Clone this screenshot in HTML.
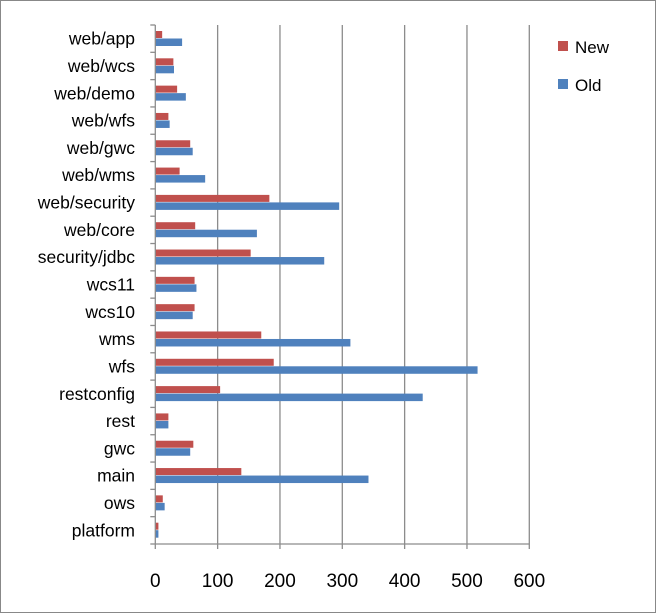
<!DOCTYPE html>
<html><head><meta charset="utf-8"><style>
html,body{margin:0;padding:0;background:#fff;}
svg{display:block;font-family:"Liberation Sans",sans-serif;}
</style></head><body>
<svg id="chart" width="657" height="614" viewBox="0 0 657 614">
<rect x="0.5" y="0.5" width="655" height="612" fill="#fff" stroke="#888"/>
<g id="grid"></g><g id="bars"></g><g id="axes"></g>
<g>
<rect x="558" y="41" width="10" height="10" fill="#c0504d"/>
<text x="575" y="53" font-size="17" fill="#000">New</text>
<rect x="558" y="79" width="10" height="10" fill="#4f81bd"/>
<text x="575" y="91" font-size="17" fill="#000">Old</text>
</g>
</svg>
<script>
const categories = ["web/app","web/wcs","web/demo","web/wfs","web/gwc","web/wms","web/security","web/core","security/jdbc","wcs11","wcs10","wms","wfs","restconfig","rest","gwc","main","ows","platform"];
const newValues = [11,29,35,21,56,39,183,64,153,63,63,170,190,104,21,61,138,12,5];
const oldValues = [43,30,49,23,60,80,295,163,271,66,60,313,517,429,21,56,342,15,5];
const xTicks = [0,100,200,300,400,500,600];

const NS="http://www.w3.org/2000/svg";
const x0=155.3, x1=529.3, xMax=600, yTop=25, yBot=544;
const band=(yBot-yTop)/categories.length;
const xs=v=>x0+(v/xMax)*(x1-x0);
const yb=i=>yTop+i*band;
function mk(tag,attrs,parent){const e=document.createElementNS(NS,tag);for(const k in attrs)e.setAttribute(k,attrs[k]);parent.appendChild(e);return e;}
const grid=document.getElementById('grid'),bars=document.getElementById('bars'),axes=document.getElementById('axes');
xTicks.forEach(t=>{
  if(t>0){const l=mk('line',{x1:xs(t),x2:xs(t),y1:yTop,y2:yBot,stroke:'#8c8c8c','stroke-width':1.3},grid);
  
  }
  const tx=mk('text',{x:xs(t),y:587,'font-size':19,'text-anchor':'middle',fill:'#000'},axes);
  tx.textContent=t;
  
  
  const tk=mk('line',{x1:xs(t),x2:xs(t),y1:yBot,y2:yBot+5,stroke:'#8c8c8c','stroke-width':1.3},axes);
  
  
});
const ax=mk('line',{x1:x0,x2:x0,y1:yTop,y2:yBot,stroke:'#8c8c8c','stroke-width':1.3},axes);


const bx=mk('line',{x1:x0,x2:x1,y1:yBot,y2:yBot,stroke:'#8c8c8c','stroke-width':1.3},axes);


for(let i=0;i<=categories.length;i++){
  const t=mk('line',{x1:x0-5,x2:x0,y1:yb(i),y2:yb(i),stroke:'#8c8c8c','stroke-width':1.3},axes);
  
  
}
categories.forEach((c,i)=>{
  const y=yb(i);
  const r=mk('rect',{x:x0,y:y+6,width:xs(newValues[i])-x0,height:7,fill:'#c0504d'},bars);
  
  
  const b=mk('rect',{x:x0,y:y+13.5,width:xs(oldValues[i])-x0,height:7.5,fill:'#4f81bd'},bars);
  
  
  const l=mk('text',{x:135,y:y+band/2+6,'font-size':17.5,'text-anchor':'end',fill:'#000'},axes);
  l.textContent=c;
  
  
});
</script>
</body></html>
